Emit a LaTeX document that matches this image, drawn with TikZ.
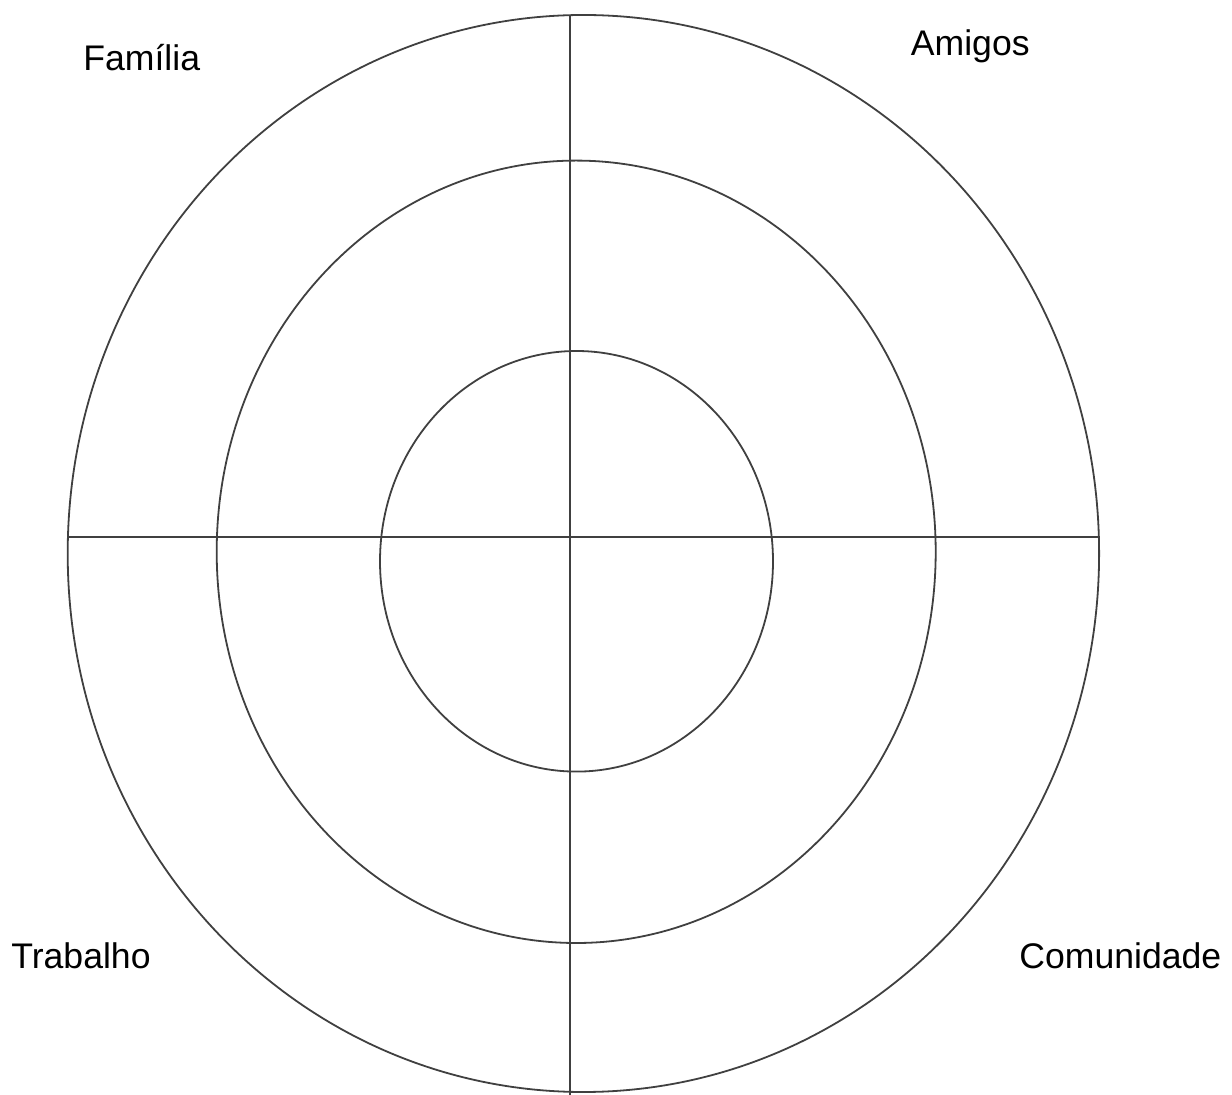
\documentclass[tikz,border=0pt]{standalone}
\usepackage{fontspec}
\setmainfont{Liberation Sans}
\usetikzlibrary{positioning,calc}

\begin{document}
\begin{tikzpicture}[
    x=0.5pt, y=-0.5pt,
    ring/.style={draw=black!75, line width=0.9pt},
    axis/.style={draw=black!75, line width=0.9pt},
    sector/.style={font=\fontsize{17.8pt}{20pt}\selectfont, anchor=base west, inner sep=0pt}
]
    \useasboundingbox (0,0) rectangle (1232,1095);

    % rings
    \draw[ring] (583.4,553.5) ellipse [x radius=257.85pt, y radius=269.25pt];
    \draw[ring] (576.2,551.8) ellipse [x radius=179.75pt, y radius=195.6pt];
    \draw[ring] (576.5,561.3) ellipse [x radius=98.25pt, y radius=105.15pt];

    % axes
    \coordinate (top) at (570,15);
    \coordinate (bottom) at (570,1095);
    \coordinate (left) at (67.7,537.3);
    \coordinate (right) at (1099.3,537.3);
    \draw[axis] (top) -- (bottom);
    \draw[axis] (left) -- (right);

    % labels
    \node[sector] (familia) at (83,70.7) {Família};
    \node[sector] (amigos) at (910.5,55.7) {Amigos};
    \node[sector] (trabalho) at (11,968) {Trabalho};
    \node[sector] (comunidade) at (1019,968) {Comunidade};
\end{tikzpicture}
\end{document}
